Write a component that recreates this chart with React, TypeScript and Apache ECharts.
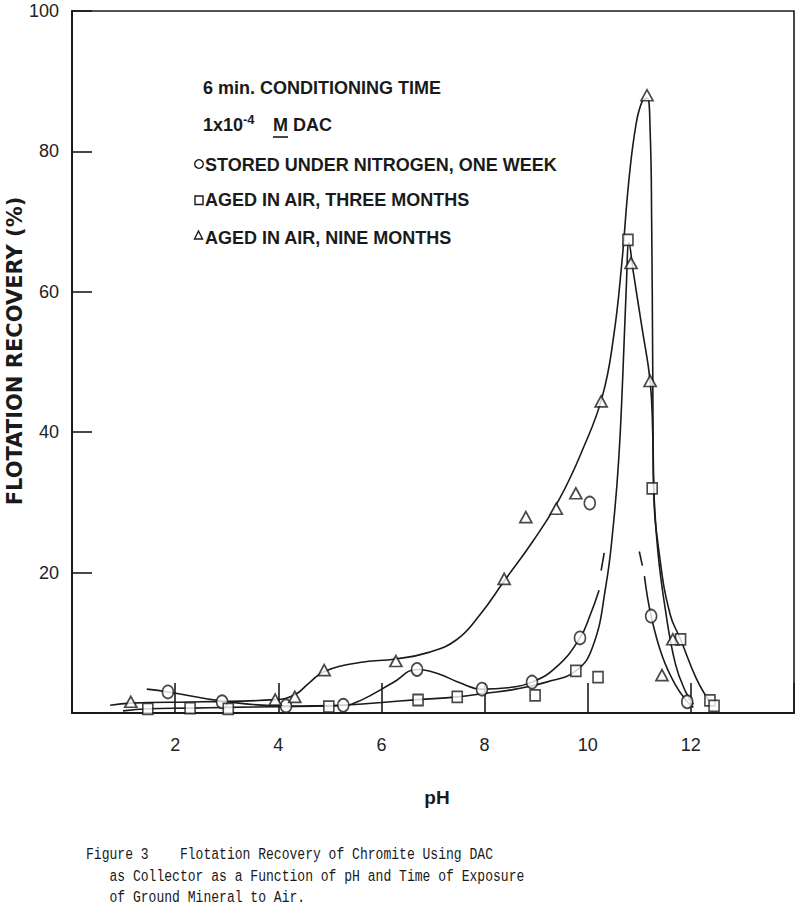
import React, { useEffect, useRef } from "react";
import * as echarts from "echarts";

// ---- Axis ticks ----
const xTickValues = [2, 4, 6, 8, 10, 12];
const yTickValues = [20, 40, 60, 80, 100];

// ---- Measured points (pH, recovery %) ----
const nitrogenOneWeek = [
  [1.86, 3.0], [2.91, 1.6], [4.15, 1.0], [5.26, 1.1], [6.69, 6.2], [7.95, 3.4],
  [8.92, 4.4], [9.85, 10.7], [10.04, 29.9], [11.23, 13.8], [11.93, 1.6],
];
const airThreeMonths = [
  [1.47, 0.6], [2.29, 0.7], [3.03, 0.6], [4.98, 0.9], [6.71, 1.85], [7.47, 2.3],
  [8.98, 2.5], [9.77, 6.0], [10.2, 5.1], [10.78, 67.4], [11.25, 32.0], [11.8, 10.5],
  [12.37, 1.8], [12.45, 1.0],
];
const airNineMonths = [
  [1.14, 1.6], [3.94, 1.9], [4.32, 2.3], [4.89, 6.1], [6.28, 7.4], [8.38, 19.1],
  [8.8, 27.9], [9.39, 29.1], [9.77, 31.3], [10.26, 44.4], [10.84, 64.1], [11.15, 88.0],
  [11.21, 47.3], [11.44, 5.4], [11.65, 10.5],
];

// ---- Hand-drawn fitted curves ----
const nitrogenCurveLeft = [
  [1.45, 3.4], [1.86, 3.0], [2.91, 1.7], [4.15, 1.0], [5.26, 1.1], [5.6, 1.8], [6.22, 4.3],
  [6.69, 6.2], [7.1, 5.6], [7.52, 4.3], [7.95, 3.4], [8.45, 3.6], [8.92, 4.4], [9.4, 6.6],
  [9.85, 10.7], [10.05, 14.0], [10.22, 17.5],
];
const nitrogenDashLeft = [[10.26, 20.3], [10.32, 22.8]];
const nitrogenDashRight = [[11.0, 23.0], [11.06, 21.0]];
const nitrogenCurveRight = [
  [11.1, 19.5], [11.23, 13.8], [11.45, 8.0], [11.7, 4.0], [11.93, 1.6], [12.05, 0.8],
];
const threeMonthsCurve = [
  [0.99, 0.3], [1.47, 0.6], [2.29, 0.7], [3.03, 0.8], [4.0, 0.9], [4.98, 1.0], [5.26, 1.1],
  [6.0, 1.5], [6.71, 1.9], [7.47, 2.3], [8.0, 2.8], [8.6, 3.4], [9.2, 4.4], [9.77, 6.0],
  [10.1, 9.5], [10.35, 18.0], [10.5, 27.0], [10.6, 36.0], [10.68, 48.0], [10.75, 61.0],
  [10.8, 67.0], [10.88, 63.0], [11.05, 55.0], [11.21, 47.3], [11.26, 40.0], [11.28, 32.0],
  [11.36, 23.0], [11.5, 15.0], [11.7, 7.0], [11.9, 3.0], [12.05, 1.2],
];
const nineMonthsCurve = [
  [0.74, 1.1], [1.14, 1.4], [2.5, 1.6], [3.94, 1.9], [4.32, 2.6], [4.6, 4.3], [4.89, 5.9],
  [5.58, 7.2], [6.28, 7.7], [6.9, 8.6], [7.45, 10.4], [7.91, 14.0], [8.38, 18.8], [8.95, 24.6],
  [9.46, 30.6], [9.9, 37.5], [10.28, 45.0], [10.5, 53.5], [10.66, 64.0], [10.8, 76.0],
  [10.94, 84.0], [11.06, 87.2], [11.15, 87.6], [11.21, 83.0], [11.24, 70.0], [11.26, 50.0],
  [11.28, 32.0], [11.4, 22.0], [11.6, 14.0], [11.8, 10.5], [12.1, 5.0], [12.37, 1.5],
];

// ---- Texts ----
const yAxisTitle = "FLOTATION RECOVERY (%)";
const xAxisTitle = "pH";
const noteLine1 = "6 min. CONDITIONING TIME";
const noteConc = "1x10";
const noteExp = "-4";
const noteReagent = "M DAC";
const legendLabels = [
  "STORED UNDER NITROGEN, ONE WEEK",
  "AGED IN AIR, THREE MONTHS",
  "AGED IN AIR, NINE MONTHS",
];
const captionLines = [
  "Figure 3    Flotation Recovery of Chromite Using DAC",
  "   as Collector as a Function of pH and Time of Exposure",
  "   of Ground Mineral to Air.",
];

const INK = "#1a1a1a";
const SANS = "'Liberation Sans', Arial, Helvetica, sans-serif";
const NARROW = "'Liberation Sans Narrow', 'Liberation Sans', Arial, sans-serif";
const MONO = "'Liberation Mono', 'DejaVu Sans Mono', monospace";

function lineSeries(data: number[][], smooth: number | boolean = 0.45) {
  return {
    type: "line",
    data,
    smooth,
    symbol: "none",
    silent: true,
    z: 2,
    lineStyle: { color: INK, width: 1.6 },
  };
}

function markerSeries(name: string, data: number[][], symbol: string, size: number[]) {
  return {
    name,
    type: "scatter",
    data,
    symbol,
    symbolSize: size,
    z: 5,
    itemStyle: { color: "#ffffff", borderColor: INK, borderWidth: 1.7 },
  };
}

function txt(text: string, x: number, y: number, opts: any = {}) {
  const { scaleX, rotation, ...style } = opts;
  const el: any = {
    type: "text",
    x,
    y,
    silent: true,
    style: {
      text,
      fill: INK,
      fontFamily: SANS,
      fontSize: 18,
      fontWeight: "bold",
      align: "left",
      verticalAlign: "middle",
      textAlign: "left",
      textVerticalAlign: "middle",
      ...style,
    },
  };
  if (scaleX !== undefined) el.scaleX = scaleX;
  if (rotation !== undefined) el.rotation = rotation;
  if (style.align) el.style.textAlign = style.align;
  if (style.verticalAlign) el.style.textVerticalAlign = style.verticalAlign;
  return el;
}

export default function App() {
  const ref = useRef<HTMLDivElement>(null);

  useEffect(() => {
    if (!ref.current) return;
    const chart = echarts.init(ref.current, undefined, { renderer: "svg" });

    const markerStyle = { stroke: INK, fill: "#fff", lineWidth: 1.4 };
    const capOpts = { fontFamily: MONO, fontSize: 17, fontWeight: "normal", scaleX: 0.768 };

    const option: any = {
      animation: false,
      backgroundColor: "#ffffff",
      grid: {
        left: 72,
        right: 6,
        top: 11,
        bottom: 197,
        show: true,
        borderColor: INK,
        borderWidth: 1.6,
        backgroundColor: "transparent",
      },
      xAxis: {
        type: "value",
        min: 0,
        max: 14,
        interval: 2,
        axisLine: { show: true, onZero: false, lineStyle: { color: INK, width: 2 } },
        axisTick: { show: true, inside: true, length: 30, lineStyle: { color: INK, width: 1.6 } },
        splitLine: { show: false },
        axisLabel: {
          margin: 23,
          fontSize: 18,
          fontFamily: NARROW,
          color: "#222",
          formatter: (v: number) => (xTickValues.includes(v) ? String(v) : ""),
        },
      },
      yAxis: {
        type: "value",
        min: 0,
        max: 100,
        interval: 20,
        axisLine: { show: true, onZero: false, lineStyle: { color: INK, width: 2 } },
        axisTick: { show: true, inside: true, length: 20, lineStyle: { color: INK, width: 1.6 } },
        splitLine: { show: false },
        axisLabel: {
          margin: 13,
          fontSize: 18,
          fontFamily: NARROW,
          color: "#222",
          formatter: (v: number) => (yTickValues.includes(v) ? String(v) : ""),
        },
      },
      series: [
        lineSeries(nineMonthsCurve),
        lineSeries(threeMonthsCurve),
        lineSeries(nitrogenCurveLeft),
        lineSeries(nitrogenDashLeft, false),
        lineSeries(nitrogenDashRight, false),
        lineSeries(nitrogenCurveRight),
        markerSeries(legendLabels[0], nitrogenOneWeek, "circle", [11, 13]),
        markerSeries(legendLabels[1], airThreeMonths, "rect", [10, 11]),
        markerSeries(legendLabels[2], airNineMonths, "triangle", [12, 11]),
      ],
      graphic: [
        txt(yAxisTitle, 15, 351, {
          rotation: Math.PI / 2,
          fontFamily: "'DejaVu Sans', sans-serif",
          fontSize: 21,
          align: "center",
        }),
        txt(xAxisTitle, 437, 797, { fontSize: 19, align: "center" }),
        txt(noteLine1, 203, 87.5),
        txt(noteConc, 203, 125),
        txt(noteExp, 243, 119.5, { fontSize: 13 }),
        txt(noteReagent, 273, 125),
        { type: "line", silent: true, shape: { x1: 273, y1: 137, x2: 288, y2: 137 }, style: { stroke: INK, lineWidth: 1.6 } },
        { type: "circle", silent: true, shape: { cx: 199, cy: 164, r: 4.3 }, style: markerStyle },
        txt(legendLabels[0], 205, 164.5),
        { type: "rect", silent: true, shape: { x: 195, y: 196, width: 8, height: 8.5 }, style: markerStyle },
        txt(legendLabels[1], 205, 199.5),
        { type: "polygon", silent: true, shape: { points: [[198.5, 231], [194.5, 239], [202.5, 239]] }, style: markerStyle },
        txt(legendLabels[2], 205, 237.5),
        txt(captionLines[0], 86, 855, capOpts),
        txt(captionLines[1], 86, 877, capOpts),
        txt(captionLines[2], 86, 898, capOpts),
      ],
    };

    chart.setOption(option);
    return () => chart.dispose();
  }, []);

  return (
    <div
      ref={ref}
      style={{ position: "fixed", left: 0, top: 0, width: 800, height: 910, background: "#fff" }}
    />
  );
}
